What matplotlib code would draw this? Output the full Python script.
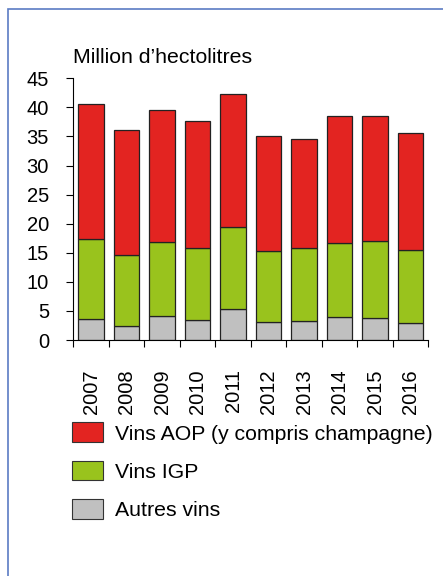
import matplotlib
matplotlib.use("Agg")
import matplotlib.pyplot as plt
from matplotlib.patches import Rectangle, Patch
import numpy as np

plt.rcParams['font.family'] = ['Liberation Sans', 'DejaVu Sans']

years = ['2007', '2008', '2009', '2010', '2011', '2012', '2013', '2014', '2015', '2016']
autres = [3.6, 2.4, 4.2, 3.4, 5.3, 3.1, 3.3, 4.0, 3.7, 3.0]
igp_top = [17.3, 14.7, 16.8, 15.9, 19.4, 15.3, 15.8, 16.6, 17.0, 15.4]
total = [40.5, 36.1, 39.6, 37.7, 42.3, 35.0, 34.6, 38.6, 38.5, 35.6]
igp = [t - a for t, a in zip(igp_top, autres)]
aop = [t - g for t, g in zip(total, igp_top)]

labels = ['Vins AOP (y compris champagne)', 'Vins IGP', 'Autres vins']
colors = ['#e32421', '#99c31d', '#c0c0c0']

W, H = 443, 576
fig = plt.figure(figsize=(W / 100, H / 100), dpi=100)

# frame border
fig.patches.append(Rectangle((8 / W, -0.05), 1.1, 1 - 9 / H + 0.05, transform=fig.transFigure,
                             fill=False, edgecolor='#5b7bc4', linewidth=1.2))

ax = fig.add_axes([73.3 / W, 1 - 340 / H, (428.3 - 73.3) / W, (340 - 78.3) / H])
x = np.arange(len(years))
bw = 0.72
ec = '#222222'
lw = 0.9
ax.bar(x, autres, bw, color=colors[2], edgecolor=ec, linewidth=lw)
ax.bar(x, igp, bw, bottom=autres, color=colors[1], edgecolor=ec, linewidth=lw)
ax.bar(x, aop, bw, bottom=igp_top, color=colors[0], edgecolor=ec, linewidth=lw)

ax.set_xlim(-0.5, len(years) - 0.5)
ax.set_ylim(0, 45)
ax.set_yticks(np.arange(0, 46, 5))
ax.tick_params(axis='y', labelsize=14.5, length=5, width=0.8, pad=12.5, direction='out')
ax.set_xticks(x)
ax.set_xticklabels(years, rotation=90)
ax.tick_params(axis='x', which='major', labelsize=14.5, length=0, pad=21)
ax.set_xticks(np.arange(-0.5, len(years), 1), minor=True)
ax.tick_params(axis='x', which='minor', length=5, width=0.8, direction='out')
for s in ['top', 'right']:
    ax.spines[s].set_visible(False)
for s in ['left', 'bottom']:
    ax.spines[s].set_linewidth(0.8)

fig.text(73 / W, 1 - 63 / H, "Million d\u2019hectolitres", fontsize=15.3, va='baseline', ha='left')

handles = [Patch(facecolor=c, edgecolor='#333333', linewidth=0.8) for c in colors]
fig.legend(handles, labels, loc='upper left', bbox_to_anchor=(66 / W, 1 - 416 / H),
           frameon=False, fontsize=15.3, handlelength=1.44, handleheight=1.06,
           handletextpad=0.55, labelspacing=0.8, borderaxespad=0, borderpad=0.3)

fig.savefig('out.png', dpi=100)
